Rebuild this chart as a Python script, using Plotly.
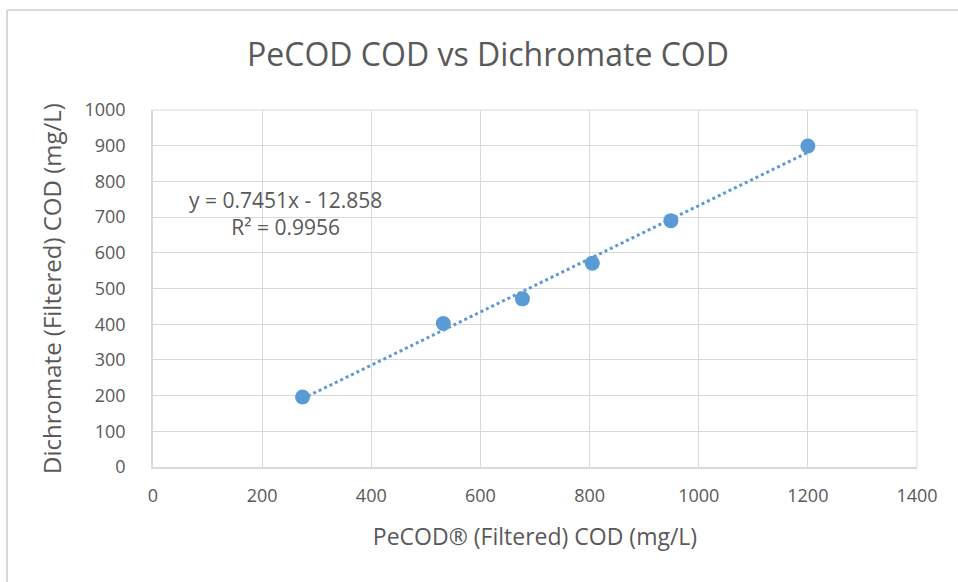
import plotly.graph_objects as go

# Data
pecod_cod = [274, 532, 677, 805, 949, 1200]
dichromate_cod = [196, 402, 471, 571, 690, 899]

# Excel linear trendline (as shown on chart)
slope = 0.7451
intercept = -12.858
r_squared = 0.9956

x_ticks = [0, 200, 400, 600, 800, 1000, 1200, 1400]
y_ticks = [0, 100, 200, 300, 400, 500, 600, 700, 800, 900, 1000]

trend_x = [min(pecod_cod), max(pecod_cod)]
trend_y = [slope * v + intercept for v in trend_x]

blue = "#5B9BD5"
text_col = "#595959"
grid_col = "#D9D9D9"
font_family = "Open Sans, Liberation Sans, sans-serif"

fig = go.Figure()
fig.add_trace(go.Scatter(
    x=trend_x, y=trend_y, mode="lines",
    line=dict(color=blue, width=3, dash="dot"),
    hoverinfo="skip", showlegend=False,
))
fig.add_trace(go.Scatter(
    x=pecod_cod, y=dichromate_cod, mode="markers",
    marker=dict(color=blue, size=15),
    showlegend=False,
))

fig.add_annotation(
    x=0.045, y=0.711, xref="paper", yref="paper",
    text=f"y = {slope}x - {abs(intercept)}<br>R² = {r_squared}",
    showarrow=False, align="center", xanchor="left", yanchor="middle",
    font=dict(family=font_family, size=21, color=text_col),
)

W, H = 958, 582
ML, MR, MT, MB = 153, 41, 110, 115
pw, ph = W - ML - MR, H - MT - MB

# chart outer border: only top and left edges are visible in the screenshot
top_y = 1 + (MT - 10) / ph
left_x = -(ML - 7) / pw
fig.add_shape(type="line", xref="paper", yref="paper",
              x0=left_x, x1=(W - ML) / pw, y0=top_y, y1=top_y,
              line=dict(color=grid_col, width=2), layer="below")
fig.add_shape(type="line", xref="paper", yref="paper",
              x0=left_x, x1=left_x, y0=-MB / ph, y1=top_y,
              line=dict(color=grid_col, width=2), layer="below")

fig.update_layout(
    width=W, height=H,
    margin=dict(l=ML, r=MR, t=MT, b=MB),
    paper_bgcolor="white", plot_bgcolor="white",
    title=dict(
        text="PeCOD COD vs Dichromate COD",
        x=488 / W, xref="container", xanchor="center",
        y=1 - 55 / H, yanchor="middle",
        font=dict(family=font_family, size=32, color=text_col),
    ),
    font=dict(family=font_family, color=text_col),
    xaxis=dict(
        range=[0, 1400], tickvals=x_ticks, ticktext=[str(v) for v in x_ticks],
        showgrid=True, gridcolor=grid_col, gridwidth=1,
        zeroline=False, showline=True, linecolor=grid_col, linewidth=1.5,
        ticks="", tickfont=dict(size=18, color=text_col),
        ticklabelstandoff=12,
        title=dict(text="PeCOD® (Filtered) COD (mg/L)", standoff=23,
                   font=dict(size=23, color=text_col)),
    ),
    yaxis=dict(
        range=[0, 1000], tickvals=y_ticks, ticktext=[str(v) for v in y_ticks],
        showgrid=True, gridcolor=grid_col, gridwidth=1,
        zeroline=False, showline=True, linecolor=grid_col, linewidth=1.5,
        ticks="", tickfont=dict(size=18, color=text_col),
        ticklabelstandoff=22,
        title=dict(text="Dichromate (Filtered) COD (mg/L)", standoff=16,
                   font=dict(size=24, color=text_col)),
    ),
)

fig.add_shape(type="line", xref="paper", yref="paper", x0=1, x1=1, y0=0, y1=1,
              line=dict(color=grid_col, width=1), layer="below")
fig.add_shape(type="line", xref="paper", yref="paper", x0=0, x1=1, y0=1, y1=1,
              line=dict(color=grid_col, width=1), layer="below")

fig.write_html(
    "out.html",
    config={"displayModeBar": False},
    post_script="document.body.style.margin='0';document.body.style.overflow='hidden';",
)
